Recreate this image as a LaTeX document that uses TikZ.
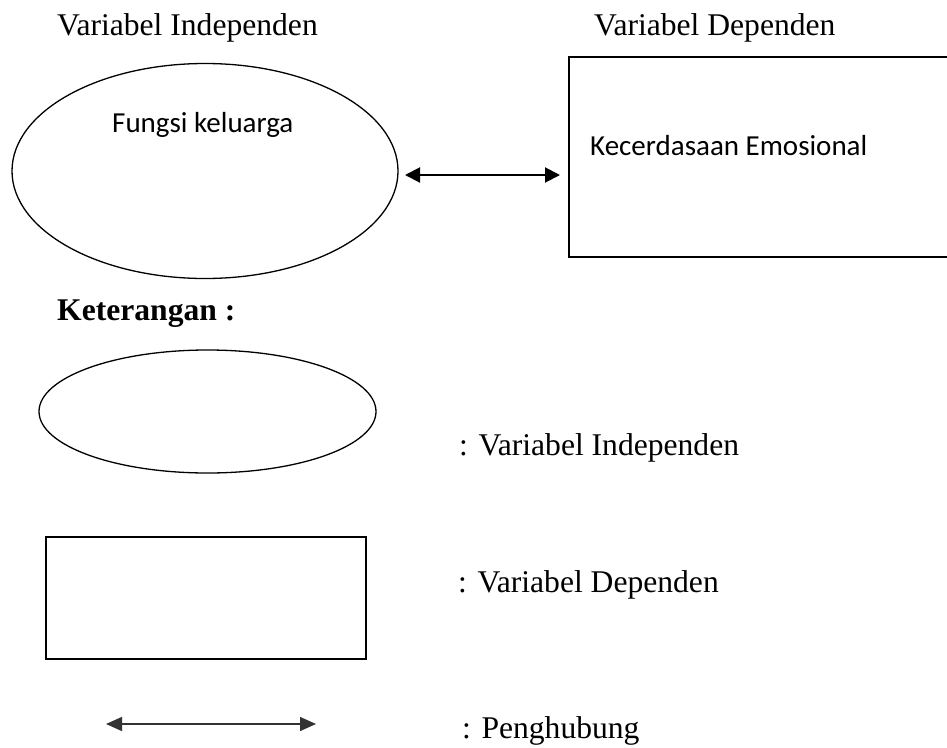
\documentclass[tikz,border=0pt]{standalone}
\usepackage{fontspec}
\setmainfont{Liberation Serif}
\newfontfamily\calibrifont{Carlito}
\usetikzlibrary{shapes.geometric,arrows.meta}
\begin{document}
\begin{tikzpicture}[x=1pt,y=-1pt,
  serif/.style={inner sep=0pt,anchor=base west,font=\fontsize{31.6}{38}\selectfont},
  boldserif/.style={serif,font=\fontsize{31.6}{38}\selectfont\bfseries},
  calib/.style={inner sep=0pt,anchor=base west,font=\calibrifont\fontsize{29}{35}\selectfont},
  ellbox/.style={draw,ellipse,inner sep=0pt,line width=1.3pt},
  rectbox/.style={draw,rectangle,inner sep=0pt,line width=2pt},
  biarrow/.style={{Triangle[length=15pt,width=15pt]}-{Triangle[length=15pt,width=15pt]},line width=2pt},
  biarrowthin/.style={{Triangle[length=16pt,width=14pt]}-{Triangle[length=16pt,width=14pt]},line width=1.4pt,draw=black!80}]
\useasboundingbox (0,0) rectangle (947,747);
% top part
\node[serif] (tIndep) at (57,35) {Variabel Independen};
\node[serif] (tDep) at (594,35) {Variabel Dependen};
\node[ellbox,minimum width=386pt,minimum height=215pt] (ell) at (205,171) {};
\node[calib] (fk) at (112,132) {Fungsi keluarga};
\node[rectbox,minimum width=400pt,minimum height=200pt] (rect) at (769,157) {};
\node[calib] (ke) at (590,155) {Kecerdasaan Emosional};
\coordinate (a1) at (405,175);
\coordinate (a2) at (560,175);
\draw[biarrow] (a1) -- (a2);
% legend
\node[boldserif] (ket) at (57,320) {Keterangan :};
\node[ellbox,minimum width=337pt,minimum height=123pt] (lell) at (207.5,411.5) {};
\node[serif] (lIndep) at (459,455) {: Variabel Independen};
\node[rectbox,minimum width=320pt,minimum height=122pt] (lrect) at (206,598) {};
\node[serif] (lDep) at (458,592) {: Variabel Dependen};
\coordinate (b1) at (106,724);
\coordinate (b2) at (316,724);
\draw[biarrowthin] (b1) -- (b2);
\node[serif] (lHub) at (462,738) {: Penghubung};
\end{tikzpicture}
\end{document}
